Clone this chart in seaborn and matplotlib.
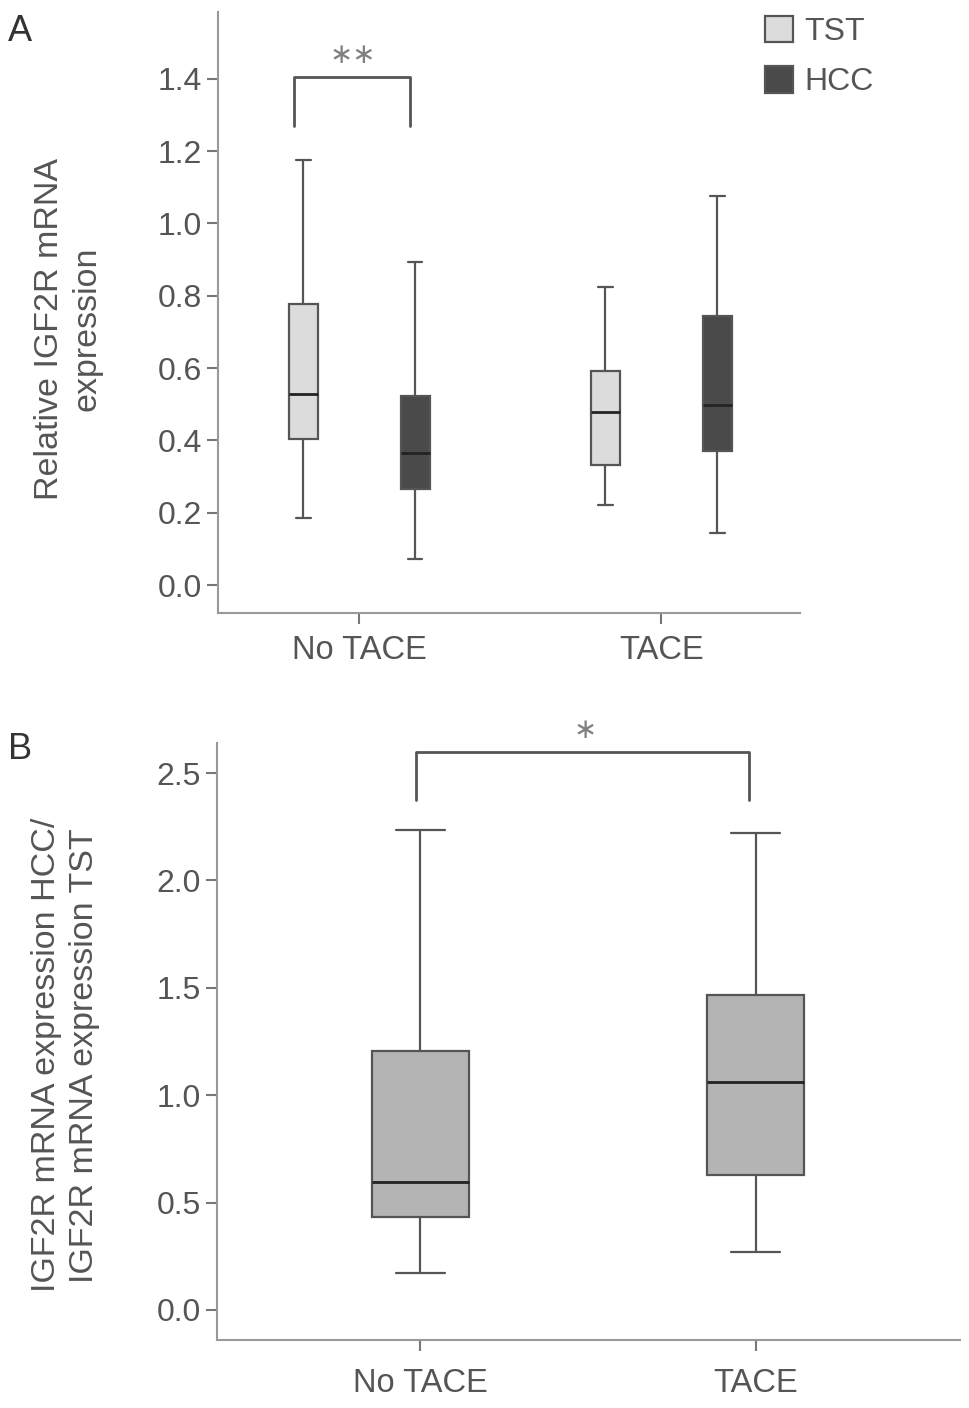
import matplotlib
matplotlib.use("Agg")
import matplotlib.pyplot as plt
from matplotlib.patches import Patch
import pandas as pd
import seaborn as sns

# ----- data: five-number summaries -----
# order: lower whisker, Q1, median, Q3, upper whisker
groups = ["No TACE", "TACE"]
tissues = ["TST", "HCC"]
a_tst_no_tace = [0.186, 0.404, 0.528, 0.777, 1.174]
a_hcc_no_tace = [0.072, 0.266, 0.365, 0.524, 0.893]
a_tst_tace = [0.221, 0.332, 0.479, 0.592, 0.824]
a_hcc_tace = [0.144, 0.371, 0.498, 0.744, 1.076]
b_no_tace = [0.172, 0.433, 0.596, 1.206, 2.235]
b_tace = [0.272, 0.628, 1.061, 1.466, 2.22]

a_ticks = [0.0, 0.2, 0.4, 0.6, 0.8, 1.0, 1.2, 1.4]
b_ticks = [0.0, 0.5, 1.0, 1.5, 2.0, 2.5]

rows = []
for g, t, vals in [("No TACE", "TST", a_tst_no_tace), ("No TACE", "HCC", a_hcc_no_tace),
                   ("TACE", "TST", a_tst_tace), ("TACE", "HCC", a_hcc_tace)]:
    for v in vals:
        rows.append({"group": g, "tissue": t, "value": v})
df_a = pd.DataFrame(rows)

rows = []
for g, vals in [("No TACE", b_no_tace), ("TACE", b_tace)]:
    for v in vals:
        rows.append({"group": g, "value": v})
df_b = pd.DataFrame(rows)

sns.set_style("ticks")
plt.rcParams["font.family"] = ["Liberation Sans", "DejaVu Sans"]

TXT = "#555555"
SPINE = "#999999"
LINE = "#555555"
MED = "#222222"
STAR = "#808080"
colors = {"TST": "#dcdcdc", "HCC": "#4a4a4a"}

fig = plt.figure(figsize=(9.69, 14.08), dpi=100)
ax_a = fig.add_axes([0.225, 0.5646, 0.601, 0.427])
ax_b = fig.add_axes([0.224, 0.0483, 0.767, 0.424])


def style_axis(ax, xpad):
    sns.despine(ax=ax)
    for s in ["left", "bottom"]:
        ax.spines[s].set_color(SPINE)
        ax.spines[s].set_linewidth(1.5)
    ax.tick_params(axis="both", colors="#777777", labelcolor=TXT, length=8, width=1.5)
    ax.tick_params(axis="y", labelsize=23, pad=3.5)
    ax.tick_params(axis="x", labelsize=23.5, pad=xpad)
    ax.set_xlabel("")


# ----- Panel A -----
sns.boxplot(data=df_a, x="group", y="value", hue="tissue", order=groups, hue_order=tissues,
            palette=colors, saturation=1, width=0.74, gap=0.74, whis=(0, 100),
            linewidth=1.6, linecolor=LINE, medianprops=dict(color=MED, linewidth=2),
            legend=False, ax=ax_a)
style_axis(ax_a, 8)
ax_a.set_xlim(-0.467, 1.46)
ax_a.set_ylim(-0.0775, 1.585)
ax_a.set_yticks(a_ticks)
ax_a.set_yticklabels([f"{t:.1f}" for t in a_ticks])
ax_a.set_ylabel("Relative IGF2R mRNA\nexpression", fontsize=24.5, color=TXT, linespacing=1.3)
ax_a.yaxis.set_label_coords(-0.198, 0.473)

# significance bracket
ax_a.plot([-0.215, -0.215, 0.169, 0.169], [1.27, 1.405, 1.405, 1.27], color=LINE, lw=2,
          clip_on=False)
ax_a.text(-0.02, 1.466, "\u2217\u2217", ha="center", va="center", fontsize=20, color=STAR,
          family="DejaVu Sans")

handles = [Patch(facecolor=colors[t], edgecolor=LINE, linewidth=1.6, label=t) for t in tissues]
leg = fig.legend(handles=handles, loc="upper left", bbox_to_anchor=(0.776, 0.998), frameon=False,
                 fontsize=23, handlelength=0.9, handleheight=0.9, handletextpad=0.35,
                 labelspacing=0.6, borderaxespad=0.0)
for t in leg.get_texts():
    t.set_color(TXT)

# ----- Panel B -----
sns.boxplot(data=df_b, x="group", y="value", order=groups, color="#b4b4b4", saturation=1,
            width=0.29, whis=(0, 100), linewidth=1.6, linecolor=LINE,
            medianprops=dict(color=MED, linewidth=2), ax=ax_b)
style_axis(ax_b, 12)
ax_b.set_xlim(-0.606, 1.61)
ax_b.set_ylim(-0.14, 2.64)
ax_b.set_yticks(b_ticks)
ax_b.set_yticklabels([f"{t:.1f}" for t in b_ticks])
ax_b.set_ylabel("IGF2R mRNA expression HCC/\nIGF2R mRNA expression TST", fontsize=24.5,
                color=TXT, linespacing=1.3)
ax_b.yaxis.set_label_coords(-0.157, 0.477)

ax_b.plot([-0.012, -0.012, 0.979, 0.979], [2.374, 2.60, 2.60, 2.374], color=LINE, lw=2,
          clip_on=False)
ax_b.text(0.49, 2.70, "\u2217", ha="center", va="center", fontsize=20, color=STAR,
          family="DejaVu Sans")

fig.text(0.008, 0.99, "A", fontsize=26, color="#333333", va="top", ha="left")
fig.text(0.008, 0.48, "B", fontsize=26, color="#333333", va="top", ha="left")

fig.savefig("out.png", dpi=100)
